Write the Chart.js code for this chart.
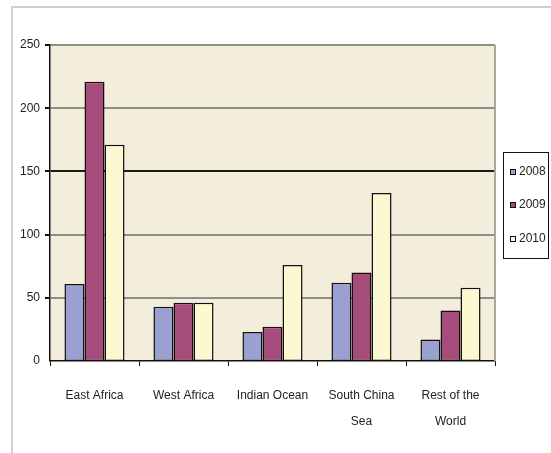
<!DOCTYPE html>
<html>
<head>
<meta charset="utf-8">
<style>
  html, body { margin: 0; padding: 0; background: #fff; }
  #wrap { position: relative; width: 551px; height: 453px; }
</style>
<script src="https://cdn.jsdelivr.net/npm/chart.js@4/dist/chart.umd.min.js"></script>
</head>
<body>
<div id="wrap"><canvas id="chart" width="551" height="453"></canvas></div>
<script>
// Data
const categories = ['East Africa', 'West Africa', 'Indian Ocean', ['South China', 'Sea'], ['Rest of the', 'World']];
const seriesLabels = ['2008', '2009', '2010'];
const values2008 = [61, 43, 23, 62, 17];
const values2009 = [221, 46, 27, 70, 40];
const values2010 = [171, 46, 76, 133, 58];
const yTicks = [0, 50, 100, 150, 200, 250];

const FONT = "'Liberation Sans', Arial, sans-serif";
const COLORS = ['#9aa1d1', '#a54c7b', '#fcf9d2'];

// Background, frame, plot edge and legend box
const decor = {
    id: 'decor',
    beforeDraw(chart) {
        const { ctx, chartArea: a } = chart;
        ctx.save();
        ctx.fillStyle = '#f3eddb';
        ctx.fillRect(a.left, a.top, a.right - a.left, a.bottom - a.top);
        // outer frame
        ctx.strokeStyle = '#cfcfcf';
        ctx.lineWidth = 2;
        ctx.beginPath();
        ctx.moveTo(551, 7);
        ctx.lineTo(12, 7);
        ctx.lineTo(12, 453);
        ctx.stroke();
        ctx.restore();
    },
    afterDraw(chart) {
        const { ctx, chartArea: a } = chart;
        ctx.save();
        // right edge of plot
        ctx.strokeStyle = '#a8a8a0';
        ctx.lineWidth = 2;
        ctx.beginPath();
        ctx.moveTo(a.right, a.top);
        ctx.lineTo(a.right, a.bottom);
        ctx.stroke();
        // legend
        ctx.strokeStyle = '#111';
        ctx.lineWidth = 1;
        ctx.strokeRect(503.5, 152.5, 45, 106);
        ctx.font = '12px ' + FONT;
        ctx.textBaseline = 'middle';
        const ys = [172, 205, 239];
        chart.data.datasets.forEach((ds, i) => {
            ctx.fillStyle = ds.backgroundColor;
            ctx.fillRect(510, ys[i] - 3, 6, 6);
            ctx.strokeStyle = '#111';
            ctx.strokeRect(510.5, ys[i] - 2.5, 5, 5);
            ctx.fillStyle = '#222';
            ctx.fillText(ds.label, 519, ys[i]);
        });
        ctx.restore();
    }
};

const datasets = [values2008, values2009, values2010].map((vals, i) => ({
    label: seriesLabels[i],
    data: vals,
    backgroundColor: COLORS[i],
    borderColor: '#111',
    borderWidth: 1.5,
    borderSkipped: false,
    barPercentage: 1,
    categoryPercentage: 0.675
}));

new Chart(document.getElementById('chart'), {
    type: 'bar',
    data: { labels: categories, datasets },
    options: {
        responsive: false,
        animation: false,
        devicePixelRatio: 1,
        layout: { padding: { top: 45, right: 56, left: 0, bottom: 0 } },
        plugins: {
            legend: { display: false },
            tooltip: { enabled: false }
        },
        scales: {
            x: {
                grid: {
                    drawOnChartArea: false,
                    drawTicks: true,
                    tickLength: 5,
                    tickColor: '#111'
                },
                border: { color: '#111', width: 1.5 },
                ticks: {
                    color: '#222',
                    font: { family: FONT, size: 12, lineHeight: 2.2 },
                    padding: 16,
                    maxRotation: 0
                },
                afterFit(scale) { scale.height = 92; }
            },
            y: {
                min: 0,
                max: 250,
                afterBuildTicks(scale) { scale.ticks = yTicks.map(v => ({ value: v })); },
                grid: {
                    color: ctx => ctx.tick && ctx.tick.value === 150 ? '#1a1a1a' : '#8e8e86',
                    lineWidth: ctx => ctx.tick && ctx.tick.value === 0 ? 0 : 2,
                    drawTicks: true,
                    tickLength: 5,
                    tickColor: '#111'
                },
                border: { color: '#111', width: 1.5 },
                ticks: {
                    color: '#222',
                    font: { family: FONT, size: 12 },
                    padding: 5
                },
                afterFit(scale) { scale.width = 50; }
            }
        }
    },
    plugins: [decor]
});
</script>
</body>
</html>
